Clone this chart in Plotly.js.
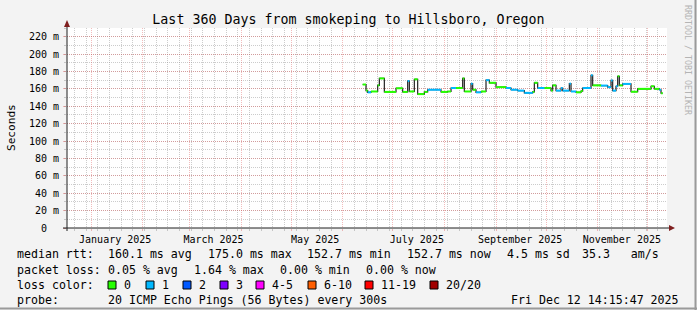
<!DOCTYPE html>
<html><head><meta charset="utf-8">
<script src="https://cdn.plot.ly/plotly-3.0.1.min.js"></script>
<style>html,body{margin:0;padding:0;background:#f3f3f3;overflow:hidden}</style>
</head><body><div id="chart" style="width:697px;height:310px"></div>
<script>
// ---- data ----
const segStart = ['2025-06-13','2025-06-15','2025-06-16','2025-06-18','2025-06-22','2025-06-23','2025-06-26','2025-07-03','2025-07-07','2025-07-10',
  '2025-07-11','2025-07-14','2025-07-16','2025-07-20','2025-07-22','2025-07-30','2025-08-03','2025-08-05','2025-08-08','2025-08-12',
  '2025-08-13','2025-08-17','2025-08-18','2025-08-20','2025-08-23','2025-08-26','2025-08-28','2025-09-01','2025-09-07','2025-09-10',
  '2025-09-14','2025-09-18','2025-09-23','2025-09-24','2025-09-26','2025-09-30','2025-10-04','2025-10-05','2025-10-07','2025-10-10',
  '2025-10-11','2025-10-15','2025-10-16','2025-10-19','2025-10-22','2025-10-23','2025-10-28','2025-10-29','2025-10-31','2025-11-03',
  '2025-11-07','2025-11-09','2025-11-10','2025-11-12','2025-11-13','2025-11-14','2025-11-16','2025-11-21','2025-11-25','2025-12-03',
  '2025-12-05','2025-12-08','2025-12-09'];
const medianMs = [165,158,156,157,164,172,156.5,160.7,156.5,169,
  157,171,154,156.5,159,156.5,157,161,161,172,
  157,166,159,156,157,170,167,162,161,159,
  158,155.4,156.5,167,161,161,158,164,158,161,
  158,166,157,156,157.5,161,175.6,164,164,163.8,
  162,169.7,158,163,174.5,164,165.7,156.7,160,163,
  160,159,155];
const lossLevel = [0,0,1,0,0,0,0,0,0,1,
  0,0,0,0,1,0,0,1,0,0,
  0,1,0,1,0,1,0,0,1,1,
  1,1,0,0,1,0,0,0,1,1,
  1,1,1,0,0,1,1,0,0,1,
  1,1,1,1,0,0,1,0,0,0,
  0,1,0];
const seriesEnd = '2025-12-10';
const rangeStart = '2024-12-17 14:15:47';
const rangeEnd = '2025-12-12 14:15:47';
const yTickVals = [0,20,40,60,80,100,120,140,160,180,200,220];
const yTickText = ['0\u00a0\u00a0','20 m','40 m','60 m','80 m','100 m','120 m','140 m','160 m','180 m','200 m','220 m'];
const xLabelDates = ['2025-01-15 12:00','2025-03-15 12:00','2025-05-15 12:00','2025-07-15 12:00','2025-09-15 12:00','2025-11-15 12:00'];
const xLabelText = ['January 2025','March 2025','May 2025','July 2025','September 2025','November 2025'];
const lossNames = ['0','1','2','3','4-5','6-10','11-19','20/20'];
const lossColors = ['#26ff00','#00b8ff','#0059ff','#7e00ff','#ff00ff','#ff5e00','#ff0000','#a10000'];
const rttStats = ['160.1 ms avg','175.0 ms max','152.7 ms min','152.7 ms now','4.5 ms sd','35.3   am/s'];
const lossStats = ['0.05 % avg','1.64 % max','0.00 % min','0.00 % now'];
const probeText = '20 ICMP Echo Pings (56 Bytes) every 300s';
const stampText = 'Fri Dec 12 14:15:47 2025';

// ---- layout helpers ----
const mono = 'DejaVu Sans Mono';
const L = 67, T = 28, W = 600, H = 200;
const px = x => (x - L) / W;
const py = y => (T + H - y) / H;
const legendFont = {family:mono, size:11.6, color:'#000'};
function txt(x, y, text, extra) {
  return Object.assign({xref:'paper', yref:'paper', x:px(x), y:py(y), text:text, showarrow:false,
    xanchor:'left', yanchor:'middle', borderpad:0, font:legendFont}, extra || {});
}

// ---- traces ----
const stepX = segStart.concat([seriesEnd]);
const stepY = medianMs.concat([medianMs[medianMs.length-1]]);
const traces = [{
  x: stepX, y: stepY, xaxis:'x', yaxis:'y', type:'scatter', mode:'lines',
  line:{shape:'hv', color:'#222', width:1.2}, hoverinfo:'skip'
}];
[0,1].forEach(lv => {
  const xs = [], ys = [];
  for (let i = 0; i < segStart.length; i++) {
    if (lossLevel[i] !== lv) continue;
    xs.push(segStart[i], stepX[i+1], null);
    ys.push(medianMs[i], medianMs[i], null);
  }
  traces.push({x:xs, y:ys, xaxis:'x', yaxis:'y', type:'scatter', mode:'lines',
    line:{color:lossColors[lv], width:2}, connectgaps:false, hoverinfo:'skip'});
});
// carrier trace for the label axis
traces.push({x:[rangeStart], y:[null], xaxis:'x2', yaxis:'y', type:'scatter', mode:'lines', hoverinfo:'skip'});

// ---- annotations (RRD style legend) ----
const ann = [];
ann.push(txt(11, 128, 'Seconds', {xanchor:'center', textangle:-90, font:{family:mono, size:11.1, color:'#000'}}));
ann.push(txt(688, 60, 'RRDTOOL / TOBI OETIKER', {xanchor:'center', textangle:90, font:{family:mono, size:8.3, color:'#b4b4b4'}}));
const row1 = 254, row2 = 270, row3 = 285, row4 = 300;
ann.push(txt(16, row1, 'median rtt:'));
const rttX = [107, 207, 306, 406, 506, 581];
rttStats.forEach((s,i) => ann.push(txt(rttX[i], row1, s)));
ann.push(txt(16, row2, 'packet loss:'));
const lossX = [107, 193, 279, 365];
lossStats.forEach((s,i) => ann.push(txt(lossX[i], row2, s)));
ann.push(txt(16, row3, 'loss color:'));
const boxX = [108, 146, 183, 220, 256, 308, 365, 430];
const shapes = [];
lossNames.forEach((n,i) => {
  shapes.push({type:'rect', xref:'paper', yref:'paper', x0:px(boxX[i]), x1:px(boxX[i]+8), y0:py(row3+4), y1:py(row3-4),
    fillcolor:lossColors[i], line:{color:'#000', width:1}});
  ann.push(txt(boxX[i]+15, row3, n));
});
ann.push(txt(16, row4, 'probe:'));
ann.push(txt(107, row4, probeText));
ann.push(txt(680, row4, stampText, {xanchor:'right'}));

// axis extensions and arrows
shapes.push({type:'line', xref:'paper', yref:'paper', x0:px(67), x1:px(67), y0:py(231), y1:py(24), line:{color:'#1f1f1f', width:1}});
shapes.push({type:'line', xref:'paper', yref:'paper', x0:px(63), x1:px(670), y0:py(228), y1:py(228), line:{color:'#1f1f1f', width:1}});
shapes.push({type:'path', xref:'paper', yref:'paper',
  path:`M ${px(64)} ${py(27)} L ${px(70)} ${py(27)} L ${px(67)} ${py(20)} Z`, fillcolor:'#7f1f1f', line:{width:0}});
shapes.push({type:'path', xref:'paper', yref:'paper',
  path:`M ${px(669)} ${py(225)} L ${px(669)} ${py(231)} L ${px(675)} ${py(228)} Z`, fillcolor:'#7f1f1f', line:{width:0}});
// 3D frame shading
shapes.push({type:'line', xref:'paper', yref:'paper', x0:px(695.5), x1:px(695.5), y0:py(0), y1:py(310), line:{color:'#9a9a9a', width:2}});
shapes.push({type:'line', xref:'paper', yref:'paper', x0:px(0), x1:px(697), y0:py(308.5), y1:py(308.5), line:{color:'#9a9a9a', width:2}});

const gridMajor = 'rgba(222,79,79,0.38)';
const gridMinor = 'rgba(143,143,143,0.45)';
const dash = '1px,1px';
const layout = {
  width:697, height:310, margin:{l:L, r:697-L-W, t:T, b:310-T-H},
  paper_bgcolor:'#f3f3f3', plot_bgcolor:'#ffffff', showlegend:false,
  font:{family:mono, size:10, color:'#000'},
  title:{text:'Last 360 Days from smokeping to Hillsboro, Oregon', font:{family:mono, size:13.3, color:'#000'},
    x:0.5, xref:'container', xanchor:'center', y:1-19/310, yref:'container', yanchor:'middle'},
  xaxis:{type:'date', range:[rangeStart, rangeEnd], tickmode:'linear', tick0:'2025-01-01', dtick:'M1',
    showticklabels:false, showgrid:true, gridcolor:gridMajor, griddash:dash, gridwidth:1,
    ticks:'outside', ticklen:2, tickcolor:gridMajor, showline:false, zeroline:false, fixedrange:true,
    minor:{tickmode:'linear', tick0:'2024-12-29', dtick:7*86400000, showgrid:true, gridcolor:gridMinor, griddash:dash, gridwidth:1,
      ticks:'outside', ticklen:2, tickcolor:gridMinor}},
  xaxis2:{type:'date', overlaying:'x', matches:'x', anchor:'y', side:'bottom', range:[rangeStart, rangeEnd],
    tickmode:'array', tickvals:xLabelDates, ticktext:xLabelText, showgrid:false, ticks:'', ticklabelstandoff:4,
    tickfont:{family:mono, size:10, color:'#000'}, showline:false, zeroline:false},
  yaxis:{range:[0,230], tickmode:'array', tickvals:yTickVals, ticktext:yTickText, showgrid:true, gridcolor:gridMajor,
    griddash:dash, gridwidth:1, ticks:'outside', ticklen:3, tickcolor:gridMajor, zeroline:false, showline:false,
    tickfont:{family:mono, size:10, color:'#000'}, ticklabelstandoff:2, fixedrange:true,
    minor:{tickmode:'linear', tick0:0, dtick:10, showgrid:true, gridcolor:gridMinor, griddash:dash, gridwidth:1,
      ticks:'outside', ticklen:2, tickcolor:gridMinor}},
  annotations:ann, shapes:shapes
};
Plotly.newPlot('chart', traces, layout, {staticPlot:true, displayModeBar:false});
</script></body></html>
